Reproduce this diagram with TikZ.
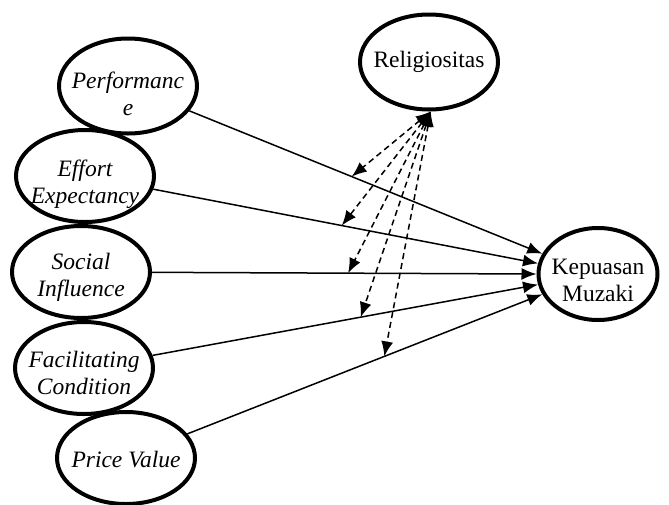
\documentclass[tikz,border=0pt]{standalone}
\usepackage{fontspec}
\setmainfont{Liberation Serif}
\usetikzlibrary{arrows.meta,shapes.geometric}
\newcommand\dropby[1]{\rule{0pt}{#1}}

\begin{document}
\begin{tikzpicture}[x=1pt,y=-1pt,
    var/.style={ellipse, draw, line width=4pt, inner xsep=-10pt, inner ysep=-4pt,
                minimum width=138pt, minimum height=92pt, align=center,
                font=\fontsize{23.5}{27}\selectfont},
    ivar/.style={var, font=\fontsize{23.5}{27}\selectfont\itshape},
    path/.style={line width=1.5pt, -{Latex[length=15pt,width=12pt]}},
    moder/.style={line width=1.5pt, dash pattern=on 6pt off 4pt,
                  {Latex[length=15pt,width=12pt]}-{Latex[length=15pt,width=12pt]}}]
    \useasboundingbox (0,0) rectangle (669,504);

    % variabel
    \node[ivar, minimum height=95pt] (perf) at (128,86) {\dropby{32pt}Performanc\\e};
    \node[ivar] (effort) at (85,176) {\dropby{34pt}Effort\\Expectancy};
    \node[ivar] (social) at (81,272) {\dropby{26pt}Social\\Influence};
    \node[ivar] (facil) at (84,368) {\dropby{26pt}Facilitating\\Condition};
    \node[ivar] (price) at (126,458) {\dropby{20pt}Price Value};
    \node[var, minimum height=95pt] (rel) at (429,62) {Religiositas};
    \node[var, minimum width=119pt] (kep) at (598,274) {\dropby{29pt}Kepuasan\\Muzaki};

    % pengaruh langsung
    \draw[path] (perf) -- (kep.160) coordinate[pos=0.46] (m1);
    \draw[path] (effort) -- (kep.170) coordinate[pos=0.49] (m2);
    \draw[path] (social) -- (kep.180) coordinate[pos=0.51] (m3);
    \draw[path] (facil) -- (kep.190) coordinate[pos=0.54] (m4);
    \draw[path] (price) -- (kep.200) coordinate[pos=0.555] (m5);

    % moderasi
    \foreach \m in {m1,m2,m3,m4,m5}
        \draw[moder] (rel.272) -- (\m);
\end{tikzpicture}
\end{document}
